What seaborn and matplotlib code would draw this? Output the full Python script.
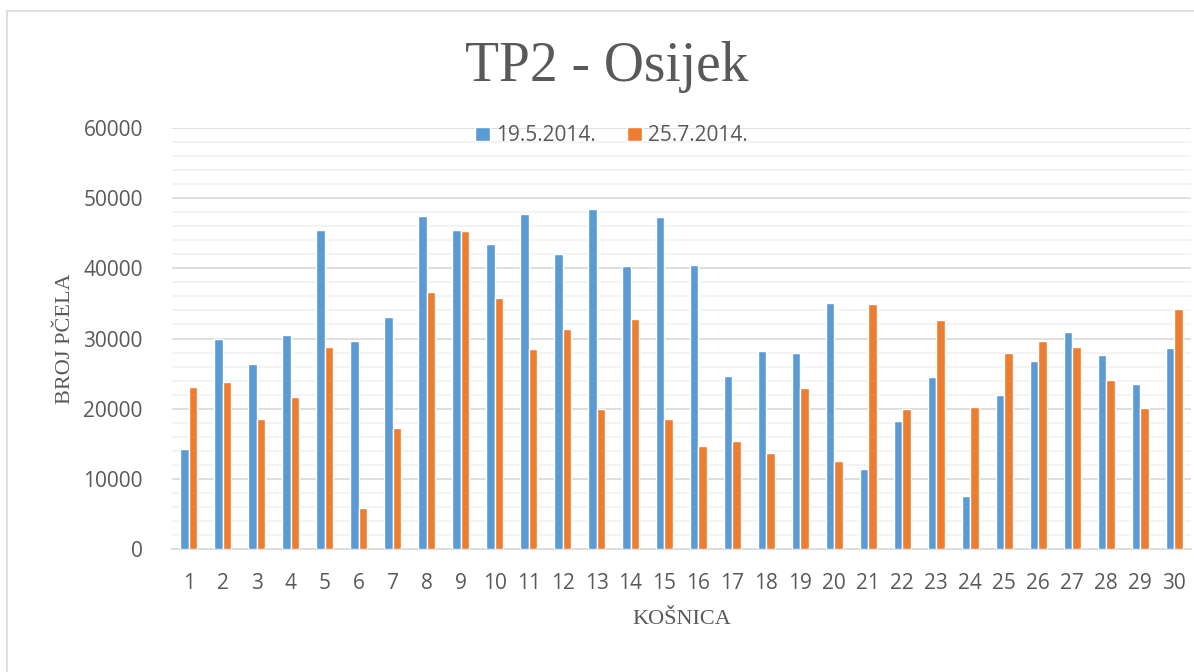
import numpy as np
import pandas as pd
import matplotlib.pyplot as plt
import seaborn as sns
from matplotlib.patches import Rectangle
from matplotlib.ticker import MultipleLocator

# broj pčela po košnici
kosnice = [str(i) for i in range(1, 31)]
datumi = ["19.5.2014.", "25.7.2014."]
svibanj = [14200, 30000, 26400, 30500, 45500, 29700, 33000, 47500, 45400, 43500,
           47800, 42100, 48500, 40300, 47300, 40500, 24600, 28200, 27900, 35000,
           11400, 18200, 24500, 7600, 22000, 26800, 30900, 27700, 23500, 28600]
srpanj = [23100, 23800, 18600, 21600, 28800, 5900, 17200, 36600, 45300, 35800,
          28500, 31300, 20000, 32800, 18500, 14700, 15400, 13700, 23000, 12500,
          34900, 20000, 32700, 20300, 27900, 29600, 28800, 24100, 20100, 34200]
boje = ["#5B9BD5", "#ED7D31"]

df = pd.DataFrame({
    "kosnica": kosnice * 2,
    "datum": [datumi[0]] * 30 + [datumi[1]] * 30,
    "broj": svibanj + srpanj,
})

sns.set_style("white")
plt.rcParams["font.family"] = ["Open Sans", "DejaVu Sans"]

fig = plt.figure(figsize=(11.94, 6.72), dpi=100)
ax = fig.add_axes([0.144, 0.183, 0.8535, 0.6265])

sns.barplot(data=df, x="kosnica", y="broj", hue="datum", order=kosnice,
            hue_order=datumi, palette=boje, width=0.5, saturation=1,
            errorbar=None, ax=ax, zorder=3)

ax.set_ylim(0, 60000)
ax.set_xlim(-0.5, 29.5)
ax.yaxis.set_major_locator(MultipleLocator(10000))
ax.yaxis.set_minor_locator(MultipleLocator(2000))
ax.grid(which="major", axis="y", color="#D9D9D9", lw=1.2, zorder=0)
ax.grid(which="minor", axis="y", color="#F2F2F2", lw=1.2, zorder=0)
ax.set_axisbelow(True)
for s in ["top", "right", "left"]:
    ax.spines[s].set_visible(False)
ax.spines["bottom"].set_color("#D9D9D9")
ax.spines["bottom"].set_linewidth(1.2)
ax.tick_params(axis="both", which="both", length=0, labelsize=15,
               labelcolor="#595959")
ax.tick_params(axis="x", pad=17)
ax.tick_params(axis="y", pad=21)

serif = ["Liberation Serif", "DejaVu Serif"]
ax.set_xlabel("KOŠNICA", family=serif, fontsize=16, color="#595959", labelpad=12)
ax.set_ylabel("BROJ PČELA", family=serif, fontsize=16, color="#595959", labelpad=6)
fig.text(0.508, 0.90, "TP2 - Osijek", family=serif, fontsize=40,
         color="#595959", ha="center", va="center")

ax.get_legend().remove()
h, l = ax.get_legend_handles_labels()
fig.legend(h, l, loc="center", bbox_to_anchor=(0.512, 0.798), ncol=2,
           frameon=False, fontsize=15, labelcolor="#595959",
           handlelength=0.7, handleheight=0.7, handletextpad=0.3,
           columnspacing=1.5)

# okvir grafikona
fig.patches.append(Rectangle((7 / 1194, -0.1), 1.2, 1 - 11 / 672 + 0.1,
                             transform=fig.transFigure, fill=False,
                             edgecolor="#D9D9D9", lw=1.2))

fig.savefig("out.png", dpi=100)
